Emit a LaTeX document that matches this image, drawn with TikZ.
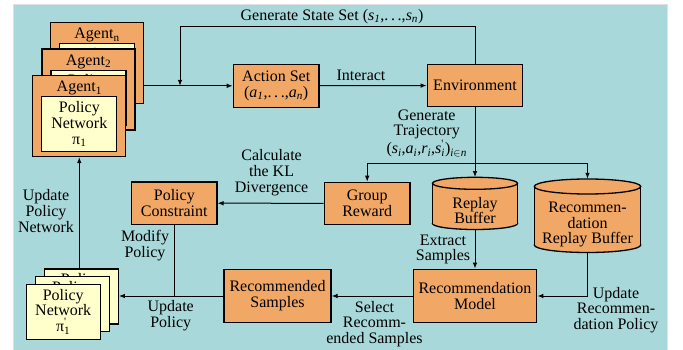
\documentclass[tikz,border=0pt]{standalone}
\usepackage{fontspec}
\setmainfont{Liberation Serif}
\usetikzlibrary{arrows.meta,calc}
\definecolor{bgteal}{RGB}{168,216,218}
\definecolor{boxorange}{RGB}{241,167,102}
\definecolor{netyellow}{RGB}{255,255,204}

% cylinder: centre x, top y, bottom y, x radius, y radius
\newcommand{\drawdrum}[5]{%
  \draw[line width=1.3pt, fill=boxorange] (#1,#3-#5) ellipse[x radius=#4, y radius=#5];
  \fill[boxorange] (#1-#4,#2+#5) rectangle (#1+#4,#3-#5);
  \draw[line width=1.3pt] (#1-#4,#2+#5) -- (#1-#4,#3-#5) (#1+#4,#2+#5) -- (#1+#4,#3-#5);
  \draw[line width=1.3pt, fill=boxorange] (#1,#2+#5) ellipse[x radius=#4, y radius=#5];
}

\begin{document}
\begin{tikzpicture}[x=1pt,y=-1pt,
  every node/.style={font=\fontsize{16}{15.7}\selectfont, inner sep=0pt, align=center},
  box/.style={draw=black, line width=1.3pt, fill=boxorange},
  net/.style={draw=black, line width=1.3pt, fill=netyellow, minimum width=75pt, minimum height=55pt},
  agentbox/.style={box, minimum width=93pt, minimum height=81pt},
  arr/.style={-{Latex[length=6pt,width=4.6pt]}, line width=1pt},
  wire/.style={line width=1pt}]
\useasboundingbox (0,0) rectangle (683,350);
\fill[bgteal] (13,4) rectangle (667,352);
\draw[black!12, line width=0.8pt] (13,352) -- (13,4) -- (667,4) -- (667,352);

% agent stack (back to front)
\node[agentbox] (agn) at (97,63) {};
\node (agnl) at (97,35) {Agent\textsubscript{n}};
\node[net] (agnp) at (97,71.2) {};
\node (agnpt) at (97,55.5) {Policy};
\node[agentbox] (ag2) at (88.5,89.5) {};
\node (ag2l) at (88.5,61.5) {Agent\textsubscript{2}};
\node[net] (ag2p) at (88.5,97.7) {};
\node (ag2pt) at (88.5,82) {Policy};
\node[agentbox] (ag1) at (79.3,116) {};
\node (ag1l) at (79.3,88) {Agent\textsubscript{1}};
\node[net] (ag1p) at (79.3,124.2) {Policy\\Network\\π\textsubscript{1}};

% updated policy network stack (back to front)
\node[net, minimum width=74pt] (pnb) at (81.3,296.5) {};
\node (pnbt) at (81.3,280.8) {Policy};
\node[net, minimum width=74pt] (pnm) at (72.5,304.2) {};
\node (pnmt) at (72.5,288.5) {Policy};
\node[net, minimum width=74pt] (pnf) at (63.2,311.7) {Policy\\Network\\π\makebox[0pt][l]{\textsuperscript{\textquotesingle}}\textsubscript{1}};

% main blocks
\node[box, minimum width=85.7pt, minimum height=43pt] (act) at (276.2,85.8)
  {Action Set\\(\textit{a}\textsubscript{\textit{1}},.\,.\,.,\textit{a}\textsubscript{\textit{n}})};
\node[box, minimum width=95.4pt, minimum height=42.4pt] (env) at (475,85.5) {Environment};
\node[box, minimum width=85.7pt, minimum height=42pt] (gr) at (367.2,203.3) {Group\\Reward};
\node[box, minimum width=85.3pt, minimum height=42.6pt] (pc) at (174.3,203.2) {Policy\\Constraint};
\node[box, minimum width=123.4pt, minimum height=53.4pt] (rm) at (475,296) {Recommendation\\Model};
\node[box, minimum width=107pt, minimum height=53.4pt] (rs) at (277.5,296) {Recommended\\Samples};

% buffers
\drawdrum{475}{177.3}{229.5}{42.5}{6}
\node[minimum width=85pt, minimum height=52.2pt] (rb) at (475,203.4) {};
\node (rbt) at (475,210.5) {Replay\\Buffer};
\drawdrum{587.5}{179}{252.5}{53.2}{7.5}
\node[minimum width=106.4pt, minimum height=73.5pt] (rrb) at (587.5,215.75) {};
\node (rrbt) at (587.5,224.5) {Recommen-\\dation\\Replay Buffer};

% connectors
\coordinate (fbtop) at (180,27);
\coordinate (tj) at (475,163.3);
\draw[arr] (agn.east |- act.west) -- (act.west);
\draw[arr] (act) -- (env);
\draw[arr] (env.north) |- (fbtop) -- (fbtop |- act.west);
\draw[arr] (env.south) -- (rb.north);
\draw[arr] (tj) -| (gr.north);
\draw[arr] (tj) -| (rrb.north);
\draw[arr] (gr) -- (pc);
\draw[wire] (pc.south) -- (pc.south |- rs.west);
\draw[arr] (rs.west) -- (rs.west -| pnb.east);
\draw[arr] (rm) -- (rs);
\draw[arr] (rb.south) -- (rm.north);
\draw[arr] (rrb.south) |- (rm.east);
\draw[arr] (pnb.north -| ag1.south) -- (ag1.south);

% connector labels
\node (lstate) at (332,16.5) {Generate State Set (\textit{s}\textsubscript{\textit{1}},.\,.\,.,\textit{s}\textsubscript{\textit{n}})};
\node (linter) at (361,75.5) {Interact};
\node (ltraj) at (426.7,133.5) {Generate\\Trajectory\\(\textit{s}\textsubscript{\textit{i}},\textit{a}\textsubscript{\textit{i}},\textit{r}\textsubscript{\textit{i}},\textit{s}\makebox[0pt][l]{\textsuperscript{\textquotesingle}}\textsubscript{\textit{i}})\textsubscript{\textit{i}$\in$\textit{n}}};
\node (lkl) at (271.6,172.5) {Calculate\\the KL\\Divergence};
\node (lextr) at (443,249.5) {Extract\\Samples};
\node (lrecpol) at (616,310) {Update\\Recommen-\\dation Policy};
\node (lsel) at (374.5,324) {Select\\Recomm-\\ended Samples};
\node (lmod) at (145,245.5) {Modify\\Policy};
\node (lupd) at (170.7,316) {Update\\Policy};
\node (lupdnet) at (46,211) {Update\\Policy\\Network};
\end{tikzpicture}
\end{document}
